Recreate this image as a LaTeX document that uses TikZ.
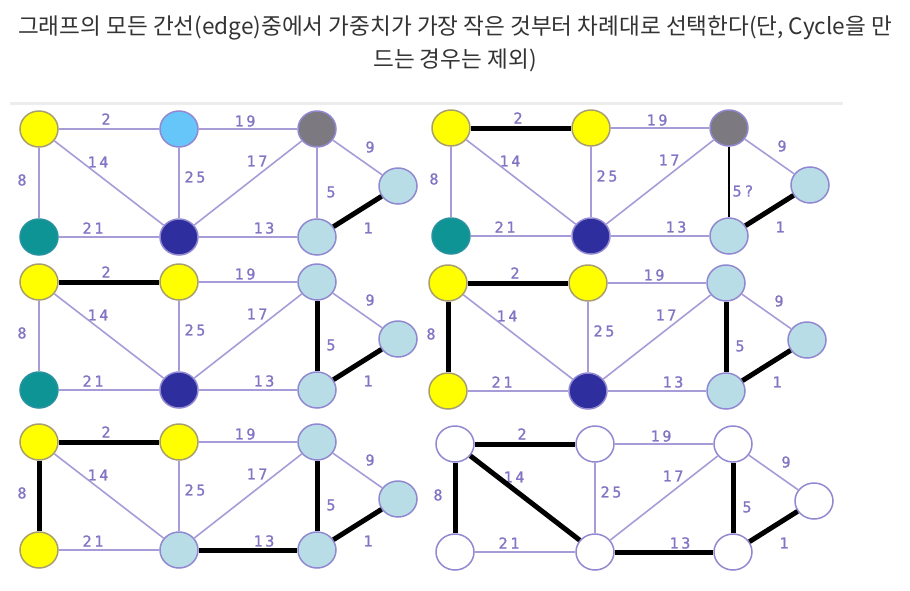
\documentclass[tikz,border=0pt]{standalone}
\usepackage{fontspec}
\newfontfamily\cjk{Noto Sans CJK KR}
\newfontfamily\lblfont[LetterSpace=18,FakeBold=1.2]{DejaVu Sans Mono}
\usetikzlibrary{shapes.geometric}
\definecolor{edgec}{HTML}{A89CD8}
\definecolor{labc}{HTML}{8474C4}
\definecolor{nodeb}{HTML}{9088D0}
\definecolor{ylw}{HTML}{FFFF00}
\definecolor{ylwb}{HTML}{A89E6E}
\definecolor{lblue}{HTML}{66C6FA}
\definecolor{gry}{HTML}{7C7A80}
\definecolor{pale}{HTML}{B9DDE6}
\definecolor{teal2}{HTML}{0E9494}
\definecolor{navy2}{HTML}{2F2E9E}
\definecolor{titlec}{HTML}{333333}
\tikzset{
  nd/.style={ellipse, minimum width=38, minimum height=36, inner sep=0pt, draw=nodeb, line width=1.5},
  yl/.style={fill=ylw, draw=ylwb},
  lb/.style={fill=lblue},
  gr/.style={fill=gry},
  pl/.style={fill=pale},
  te/.style={fill=teal2, draw=teal2!80!nodeb},
  nv/.style={fill=navy2},
  wh/.style={fill=white},
  ed/.style={draw=edgec, line width=1.6},
  sel/.style={draw=black, line width=5},
  wl/.style={text=labc, font=\lblfont\fontsize{15}{15}\selectfont, inner sep=0pt},
}
\newcommand{\kpanel}[2]{%
  \node[nd,cA] (#1A) at (0,0) {};
  \node[nd,cB] (#1B) at (140,0) {};
  \node[nd,cC] (#1C) at (278,0) {};
  \node[nd,cD] (#1D) at (359,57) {};
  \node[nd,cE] (#1E) at (0,108) {};
  \node[nd,cF] (#1F) at (140,108) {};
  \node[nd,cG] (#1G) at (278,108) {};
  \draw[ed] (#1A) -- (#1B);
  \draw[ed] (#1B) -- (#1C);
  \draw[ed] (#1C) -- (#1D);
  \draw[ed] (#1A) -- (#1E);
  \draw[ed] (#1A) -- (#1F);
  \draw[ed] (#1B) -- (#1F);
  \draw[ed] (#1F) -- (#1C);
  \draw[ed] (#1C) -- (#1G);
  \draw[ed] (#1E) -- (#1F);
  \draw[ed] (#1F) -- (#1G);
  \draw[ed] (#1G) -- (#1D);
  \node[wl] (#1l2) at (67,-10) {2};
  \node[wl] (#1l19) at (206,-8) {19};
  \node[wl] (#1l9) at (331,18) {9};
  \node[wl] (#1l14) at (59,33) {14};
  \node[wl] (#1l17) at (218,32) {17};
  \node[wl] (#1l25) at (156,48) {25};
  \node[wl] (#1l8) at (-17,51) {8};
  \node[wl] (#1l5) at (292,63) {#2};
  \node[wl] (#1l21) at (54,99) {21};
  \node[wl] (#1l13) at (225,99) {13};
  \node[wl] (#1l1) at (329,99) {1};
}
\begin{document}
\begin{tikzpicture}[x=1pt,y=-1pt]
\useasboundingbox (0,0) rectangle (910,590);
\fill[white] (0,0) rectangle (910,590);
\draw[color=black!7, line width=3] (10,103) -- (843,103);
\node[text=titlec, font=\cjk\fontsize{22.6}{22.6}\selectfont] (t1) at (455,28) {그래프의 모든 간선(edge)중에서 가중치가 가장 작은 것부터 차례대로 선택한다(단, Cycle을 만};
\node[text=titlec, font=\cjk\fontsize{22.6}{22.6}\selectfont] (t2) at (455,60) {드는 경우는 제외)};
% panel 1
\begin{scope}[shift={(39,129)}, cA/.style={yl}, cB/.style={lb}, cC/.style={gr}, cD/.style={pl}, cE/.style={te}, cF/.style={nv}, cG/.style={pl}]
\kpanel{a}{5}
\draw[sel] (aG) -- (aD);
\end{scope}
% panel 2
\begin{scope}[shift={(451,128)}, cA/.style={yl}, cB/.style={yl}, cC/.style={gr}, cD/.style={pl}, cE/.style={te}, cF/.style={nv}, cG/.style={pl}]
\kpanel{b}{5?}
\draw[sel] (bA) -- (bB);
\draw[sel] (bG) -- (bD);
\draw[draw=black, line width=2] (bC) -- (bG);
\end{scope}
% panel 3
\begin{scope}[shift={(39,282)}, cA/.style={yl}, cB/.style={yl}, cC/.style={pl}, cD/.style={pl}, cE/.style={te}, cF/.style={nv}, cG/.style={pl}]
\kpanel{c}{5}
\draw[sel] (cA) -- (cB);
\draw[sel] (cC) -- (cG);
\draw[sel] (cG) -- (cD);
\end{scope}
% panel 4
\begin{scope}[shift={(448,283)}, cA/.style={yl}, cB/.style={yl}, cC/.style={pl}, cD/.style={pl}, cE/.style={yl}, cF/.style={nv}, cG/.style={pl}]
\kpanel{d}{5}
\draw[sel] (dA) -- (dB);
\draw[sel] (dA) -- (dE);
\draw[sel] (dC) -- (dG);
\draw[sel] (dG) -- (dD);
\end{scope}
% panel 5
\begin{scope}[shift={(39,442)}, cA/.style={yl}, cB/.style={yl}, cC/.style={pl}, cD/.style={pl}, cE/.style={yl}, cF/.style={pl}, cG/.style={pl}]
\kpanel{e}{5}
\draw[sel] (eA) -- (eB);
\draw[sel] (eA) -- (eE);
\draw[sel] (eC) -- (eG);
\draw[sel] (eG) -- (eD);
\draw[sel] (eF) -- (eG);
\end{scope}
% panel 6
\begin{scope}[shift={(455,444)}, cA/.style={wh}, cB/.style={wh}, cC/.style={wh}, cD/.style={wh}, cE/.style={wh}, cF/.style={wh}, cG/.style={wh}]
\kpanel{f}{5}
\draw[sel] (fA) -- (fB);
\draw[sel] (fA) -- (fE);
\draw[sel] (fA) -- (fF);
\draw[sel] (fC) -- (fG);
\draw[sel] (fG) -- (fD);
\draw[sel] (fF) -- (fG);
\end{scope}
\end{tikzpicture}
\end{document}
